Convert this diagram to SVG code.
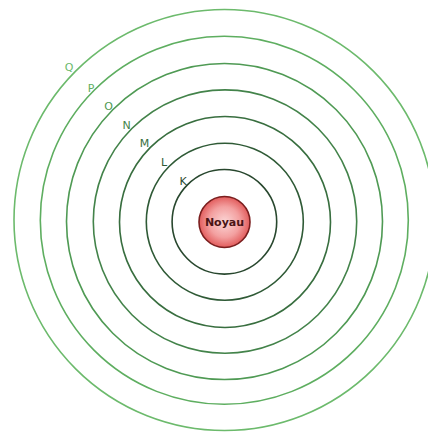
<svg xmlns="http://www.w3.org/2000/svg" width="428" height="432" viewBox="0 0 428 432">
<style>
.orb{fill:none;stroke-width:1.6}
.lbl{font-family:"DejaVu Sans",Verdana,sans-serif;font-size:11px;text-anchor:middle}
</style>
<defs>
<radialGradient id="ng" cx="50%" cy="50%" r="50%">
<stop offset="0" stop-color="#fbd6d6"/>
<stop offset="0.6" stop-color="#f3a0a0"/>
<stop offset="1" stop-color="#e25c5c"/>
</radialGradient>
</defs>
<rect width="428" height="432" fill="#ffffff"/>
<g id="orbits">
<g id="Q"><circle class="orb" cx="224.5" cy="220" r="210.5" stroke="#6cba6c"/><text class="lbl" x="69" y="70.5" fill="#6cba6c">Q</text></g>
<g id="P"><circle class="orb" cx="224.3" cy="220.3" r="184" stroke="#5eae60"/><text class="lbl" x="91" y="91.5" fill="#5eae60">P</text></g>
<g id="O"><circle class="orb" cx="224.5" cy="221.5" r="158" stroke="#4f9a54"/><text class="lbl" x="108.5" y="110" fill="#4f9a54">O</text></g>
<g id="N"><circle class="orb" cx="225" cy="221.6" r="131.7" stroke="#43834a"/><text class="lbl" x="126.5" y="128.5" fill="#43834a">N</text></g>
<g id="M"><circle class="orb" cx="225" cy="222" r="105.5" stroke="#386e3f"/><text class="lbl" x="144.5" y="146.5" fill="#386e3f">M</text></g>
<g id="L"><circle class="orb" cx="224.8" cy="221.8" r="78.5" stroke="#2f5a36"/><text class="lbl" x="164" y="166" fill="#2f5a36">L</text></g>
<g id="K"><circle class="orb" cx="224.4" cy="221.8" r="52.3" stroke="#28472e"/><text class="lbl" x="183" y="185" fill="#28472e">K</text></g>
</g>
<g id="noyau">
<circle cx="224.5" cy="222" r="25.5" fill="url(#ng)" stroke="#7a1e1e" stroke-width="1.6"/>
<text x="224.5" y="226" font-family="DejaVu Sans,Verdana,sans-serif" font-size="11" font-weight="bold" text-anchor="middle" fill="#4a1414">Noyau</text>
</g>
</svg>
